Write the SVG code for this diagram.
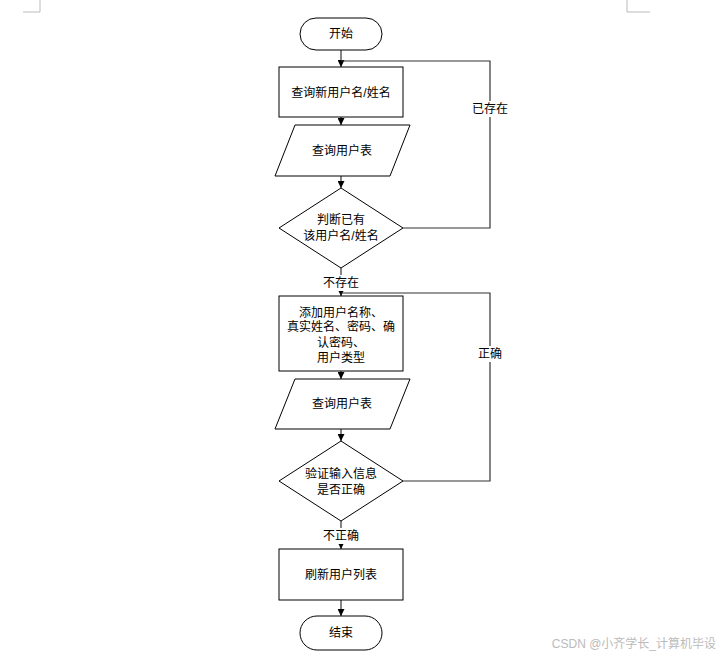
<svg xmlns="http://www.w3.org/2000/svg" width="726" height="658" viewBox="0 0 726 658">
<style>
.shape{fill:#fff;stroke:#000;stroke-width:1}
.t{font-family:"Liberation Sans","Noto Sans CJK SC",sans-serif;font-size:12px;fill:#000;text-anchor:middle}
.conn{fill:none;stroke:#333;stroke-width:1.2}
.corner{fill:none;stroke:#bbb;stroke-width:1}
.lbl{fill:#fff}
</style>
<defs>
<marker id="arr" viewBox="0 0 8 8" refX="8" refY="4" markerWidth="7" markerHeight="7" orient="auto" markerUnits="userSpaceOnUse">
<path d="M0,0 L8,4 L0,8 z" fill="#000"/>
</marker>
</defs>
<rect width="726" height="658" fill="#fff"/>
<g id="corners">
<path class="corner" d="M40,0 V12 H23"/>
<path class="corner" d="M627,0 V12 H650"/>
</g>
<g id="connectors">
<path class="conn" d="M341,50 V67" marker-end="url(#arr)"/>
<path class="conn" d="M341,117 V125" marker-end="url(#arr)"/>
<path class="conn" d="M341,176 V188" marker-end="url(#arr)"/>
<path class="conn" d="M403,228 H490 V61 H341" />
<path class="conn" d="M341,268 V296" marker-end="url(#arr)"/>
<path class="conn" d="M403,481 H490 V293 H341"/>
<path class="conn" d="M341,371 V379" marker-end="url(#arr)"/>
<path class="conn" d="M341,429 V441" marker-end="url(#arr)"/>
<path class="conn" d="M341,521 V549" marker-end="url(#arr)"/>
<path class="conn" d="M341,600 V616" marker-end="url(#arr)"/>
<rect class="lbl" x="471" y="101" width="38" height="16"/>
<text class="t" x="490" y="113">已存在</text>
<rect class="lbl" x="322" y="275" width="38" height="16"/>
<text class="t" x="341" y="287">不存在</text>
<rect class="lbl" x="476" y="346" width="28" height="16"/>
<text class="t" x="490" y="358">正确</text>
<rect class="lbl" x="322" y="528" width="38" height="16"/>
<text class="t" x="341" y="540">不正确</text>
</g>
<g id="start">
<rect class="shape" x="300" y="18" width="82" height="32" rx="16" ry="16"/>
<text class="t" x="341" y="38">开始</text>
</g>
<g id="query-new">
<rect class="shape" x="279" y="67" width="124" height="50"/>
<text class="t" x="341" y="97">查询新用户名/姓名</text>
</g>
<g id="query-table-1">
<polygon class="shape" points="295,125 410,125 390,176 275,176"/>
<text class="t" x="342" y="155">查询用户表</text>
</g>
<g id="decision-exists">
<polygon class="shape" points="341,188 403,228 341,268 279,228"/>
<text class="t" x="341" y="224">判断已有</text>
<text class="t" x="341" y="240">该用户名/姓名</text>
</g>
<g id="add-user">
<rect class="shape" x="279" y="296" width="124" height="75"/>
<text class="t" x="341" y="317">添加用户名称、</text>
<text class="t" x="341" y="331">真实姓名、密码、确</text>
<text class="t" x="341" y="347">认密码、</text>
<text class="t" x="341" y="362">用户类型</text>
</g>
<g id="query-table-2">
<polygon class="shape" points="295,379 410,379 390,429 275,429"/>
<text class="t" x="342" y="408">查询用户表</text>
</g>
<g id="decision-valid">
<polygon class="shape" points="341,441 403,481 341,521 279,481"/>
<text class="t" x="341" y="478">验证输入信息</text>
<text class="t" x="341" y="494">是否正确</text>
</g>
<g id="refresh">
<rect class="shape" x="279" y="549" width="124" height="51"/>
<text class="t" x="341" y="579">刷新用户列表</text>
</g>
<g id="end">
<rect class="shape" x="300" y="616" width="82" height="34" rx="17" ry="17"/>
<text class="t" x="341" y="637">结束</text>
</g>
<text x="716" y="648" style="font-family:'Liberation Sans','Noto Sans CJK SC',sans-serif;font-size:12px;fill:#bbb;text-anchor:end">CSDN @小齐学长_计算机毕设</text>
</svg>
